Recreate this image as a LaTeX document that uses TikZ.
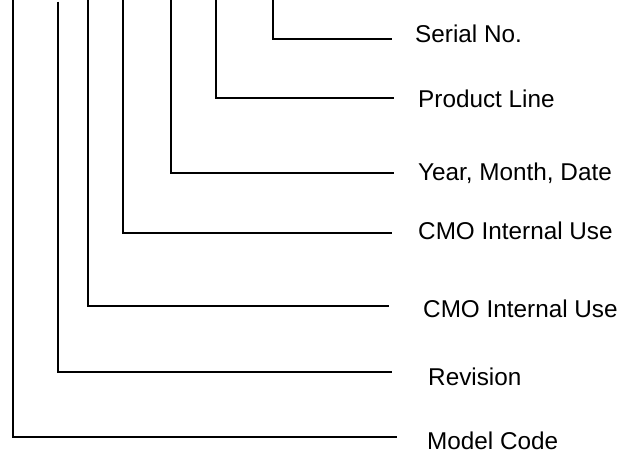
\documentclass[tikz,border=0pt]{standalone}
\usepackage{fontspec}
\setmainfont{Liberation Sans}
\usetikzlibrary{positioning}

\begin{document}
\begin{tikzpicture}[x=1pt, y=-1pt,
    leg/.style={line width=2pt, black},
    field/.style={anchor=base west, inner sep=0pt, font=\fontsize{24.3}{28}\selectfont}]
    \useasboundingbox (0,0) rectangle (623,453);

    % top ends of the legs
    \coordinate (serialtop) at (273,0);
    \coordinate (linetop) at (216,0);
    \coordinate (datetop) at (171,0);
    \coordinate (cmoatop) at (123,0);
    \coordinate (cmobtop) at (88,0);
    \coordinate (revtop) at (58,1.5);
    \coordinate (modeltop) at (13,0);

    % right ends of the legs
    \coordinate (serialend) at (392,38.5);
    \coordinate (lineend) at (394,98);
    \coordinate (dateend) at (394,173);
    \coordinate (cmoaend) at (392,233);
    \coordinate (cmobend) at (389,306);
    \coordinate (revend) at (392,372);
    \coordinate (modelend) at (397,437);

    \node[field] (serial) at (415,42) {Serial No.};
    \node[field] (line) at (418,107) {Product Line};
    \node[field] (date) at (418,180) {Year, Month, Date};
    \node[field] (cmoa) at (418,239) {CMO Internal Use};
    \node[field] (cmob) at (423,317) {CMO Internal Use};
    \node[field] (rev) at (428,385) {Revision};
    \node[field] (model) at (427,449) {Model Code};

    \draw[leg] (serialtop) |- (serialend);
    \draw[leg] (linetop) |- (lineend);
    \draw[leg] (datetop) |- (dateend);
    \draw[leg] (cmoatop) |- (cmoaend);
    \draw[leg] (cmobtop) |- (cmobend);
    \draw[leg] (revtop) |- (revend);
    \draw[leg] (modeltop) |- (modelend);
\end{tikzpicture}
\end{document}
